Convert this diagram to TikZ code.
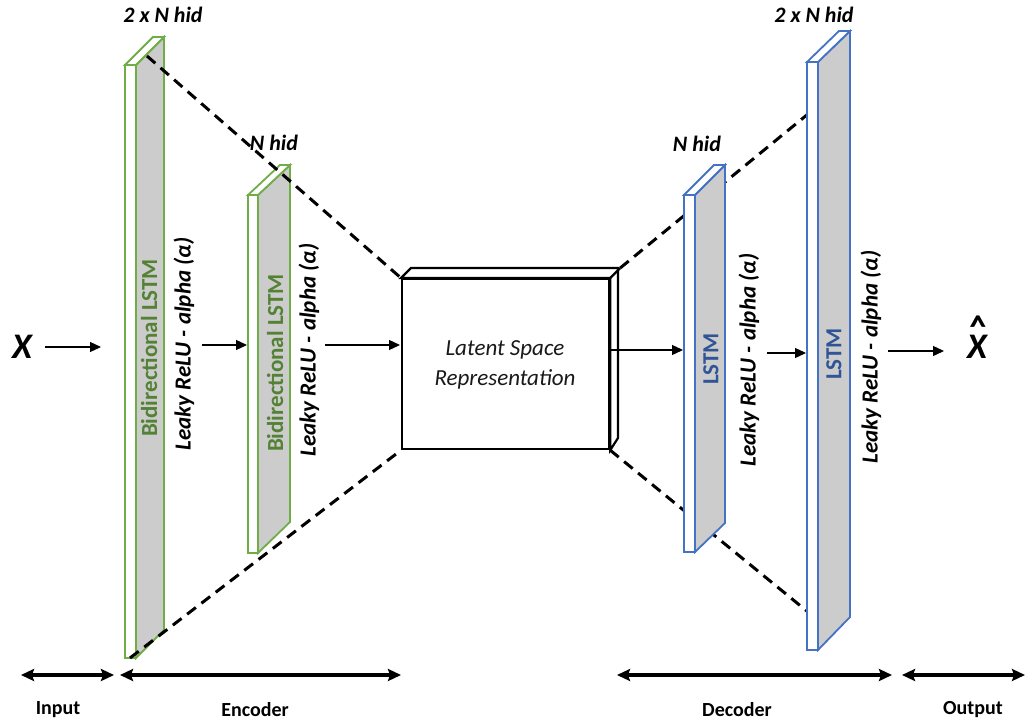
\documentclass[tikz,border=0pt]{standalone}
\usepackage{fontspec}
\setmainfont{Carlito}
\usetikzlibrary{arrows.meta}
\definecolor{lgreen}{HTML}{70AD47}
\definecolor{lblue}{HTML}{4472C4}
\definecolor{dgreen}{HTML}{548235}
\definecolor{dblue}{HTML}{2F5597}
\definecolor{sidegray}{HTML}{CCCCCC}
\tikzset{
  lay/.style={line width=1.8pt, line join=miter},
  arr/.style={line width=1.3pt, -{Triangle[length=11pt,width=10pt]}},
  spanarr/.style={line width=3.2pt, {Stealth[length=13pt,width=12pt,inset=2pt]}-{Stealth[length=13pt,width=12pt,inset=2pt]}},
  dsh/.style={line width=3pt, dash pattern=on 11pt off 7pt},
  lbl/.style={font=\fontsize{20}{24}\selectfont\bfseries, inner sep=0pt},
  hid/.style={font=\fontsize{22}{26}\selectfont\bfseries\itshape, inner sep=0pt},
  act/.style={font=\fontsize{23}{28}\selectfont\bfseries\itshape, rotate=90, inner sep=0pt},
  cell/.style={font=\fontsize{23}{28}\selectfont\bfseries, rotate=90, inner sep=0pt},
  big/.style={font=\fontsize{36}{40}\selectfont\bfseries\itshape, inner sep=0pt}
}
\newcommand{\nnlayer}[9]{%
  \filldraw[lay, draw=#9, fill=sidegray] (#3,#5) -- (#4,#7) -- (#4,#8) -- (#3,#6) -- cycle;
  \filldraw[lay, draw=#9, fill=white] (#2,#5) rectangle (#3,#6);
  \filldraw[lay, draw=#9, fill=white] (#2,#5) -- (#3,#5) -- (#4,#7) -- (#2+#4-#3,#7) -- cycle;
}
\begin{document}
\begin{tikzpicture}[x=1pt,y=-1pt]
\useasboundingbox (0,0) rectangle (1026,725);

% encoder layers
\nnlayer{e1}{125}{136}{164}{65}{658}{37}{630}{lgreen}
\nnlayer{e2}{248}{258}{290}{195}{553}{165}{522}{lgreen}
\coordinate (e1-top) at (147,56);
\coordinate (e1-bot) at (130,658);

% latent box
\node[draw, line width=2.2pt, fill=white, minimum width=207pt, minimum height=170pt, inner sep=0pt, anchor=north west] (lat) at (401,278) {};
\filldraw[line width=2.2pt, fill=white, line join=miter] (lat.north west) -- ++(10,-10) -- ++(207,0) -- ++(0,170) -- (lat.south east) -- (lat.north east) -- cycle;
\draw[line width=2.2pt] (lat.north east) -- ++(10,-10);
\coordinate (lat-btr) at ([shift={(10,-10)}]lat.north east);
\node[align=center, font=\fontsize{23}{30}\selectfont\itshape, text=black!90] (lattxt) at (505,365) {Latent Space\\Representation};

% dashed lines, encoder side
\draw[dsh] (e1-top) -- (lat.north west);
\draw[dsh] (e1-bot) -- (lat.south west);

% dashed lines, decoder side
\coordinate (d2-t) at (808,114);
\coordinate (d2-b) at (808,612);
\draw[dsh] (lat-btr) -- (d2-t);
\draw[dsh] (lat.south east) -- (d2-b);

% decoder layers
\nnlayer{d1}{684}{695}{725}{195}{552}{165}{523}{lblue}
\nnlayer{d2}{807}{818}{850}{62}{650}{31}{617}{lblue}

% layer texts
\node[cell, text=dgreen] (e1c) at (149,348) {Bidirectional LSTM};
\node[cell, text=dgreen] (e2c) at (275,363) {Bidirectional LSTM};
\node[cell, text=dblue] (d1c) at (711,359) {LSTM};
\node[cell, text=dblue] (d2c) at (834,354) {LSTM};
\node[act] (e1a) at (184,344) {Leaky ReLU - alpha (α)};
\node[act] (e2a) at (309,350) {Leaky ReLU - alpha (α)};
\node[act] (d1a) at (749,360) {Leaky ReLU - alpha (α)};
\node[act] (d2a) at (871,357) {Leaky ReLU - alpha (α)};

% size labels
\node[hid] (h1) at (163,15) {2 x N hid};
\node[hid] (h2) at (274,143) {N hid};
\node[hid] (h3) at (697,144) {N hid};
\node[hid] (h4) at (814,15) {2 x N hid};

% input / output symbols
\node[big] (X) at (22,347) {X};
\node[big] (Xh) at (977,347) {\ooalign{X\cr\hidewidth\raisebox{18pt}{\textasciicircum}\hidewidth\cr}};

% flow arrows
\coordinate (a0s) at (45,347);  \coordinate (a0e) at (101,347);
\coordinate (a1s) at (202,345); \coordinate (a1e) at (247,345);
\coordinate (a2s) at (325,345); \coordinate (a2e) at (400,345);
\coordinate (a3s) at (608,350); \coordinate (a3e) at (683,350);
\coordinate (a4s) at (767,353); \coordinate (a4e) at (806,353);
\coordinate (a5s) at (888,351); \coordinate (a5e) at (944,351);
\draw[arr] (a0s) -- (a0e);
\draw[arr] (a1s) -- (a1e);
\draw[arr] (a2s) -- (a2e);
\draw[arr] (a3s) -- (a3e);
\draw[arr] (a4s) -- (a4e);
\draw[arr] (a5s) -- (a5e);

% bottom spans
\coordinate (inL) at (21,675);  \coordinate (inR) at (114,675);
\coordinate (enL) at (120,675); \coordinate (enR) at (401,675);
\coordinate (deL) at (617,675); \coordinate (deR) at (892,675);
\coordinate (ouL) at (902,675); \coordinate (ouR) at (1025,675);
\draw[spanarr] (inL) -- (inR);
\draw[spanarr] (enL) -- (enR);
\draw[spanarr] (deL) -- (deR);
\draw[spanarr] (ouL) -- (ouR);
\node[lbl] (tin) at (58,710) {Input};
\node[lbl] (ten) at (255,710) {Encoder};
\node[lbl] (tde) at (737,710) {Decoder};
\node[lbl] (tou) at (973,710) {Output};
\end{tikzpicture}
\end{document}
